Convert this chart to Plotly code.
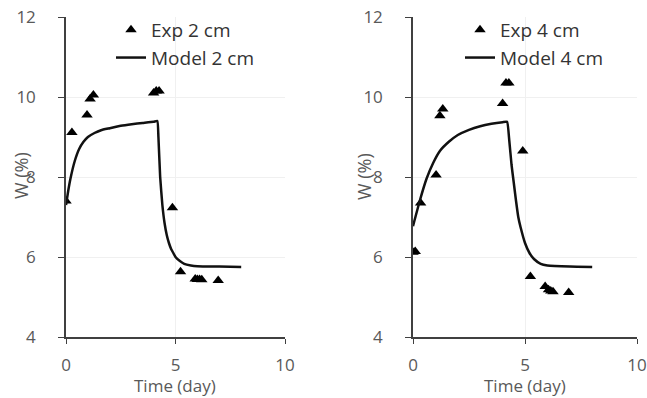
import plotly.graph_objects as go

# ---- data ----
exp2_x = [0.0, 0.27, 0.96, 1.1, 1.25, 4.0, 4.12, 4.25, 4.86, 5.23, 5.9, 6.0, 6.1, 6.2, 6.95]
exp2_y = [7.4, 9.11, 9.55, 9.95, 10.05, 10.1, 10.15, 10.15, 7.23, 5.63, 5.45, 5.44, 5.44, 5.43, 5.41]

model2_x = [0, 0.1, 0.2, 0.4, 0.6, 0.8, 1.0, 1.3, 1.6, 2.0, 2.5, 3.0, 3.5, 4.0, 4.17, 4.22, 4.3,
            4.4, 4.5, 4.6, 4.7, 4.8, 4.9, 5.0, 5.2, 5.4, 5.7, 6.0, 7.0, 8.0]
model2_y = [7.3, 7.65, 7.95, 8.4, 8.7, 8.88, 9.0, 9.1, 9.17, 9.22, 9.28, 9.32, 9.35, 9.38, 9.4, 9.0, 8.0,
            7.3, 6.85, 6.55, 6.35, 6.2, 6.1, 6.0, 5.9, 5.83, 5.79, 5.77, 5.76, 5.75]

exp4_x = [0.0, 0.1, 0.34, 1.03, 1.2, 1.33, 4.0, 4.15, 4.28, 4.9, 5.24, 5.9, 6.05, 6.15, 6.25, 6.95]
exp4_y = [6.12, 6.14, 7.35, 8.05, 9.53, 9.7, 9.84, 10.35, 10.35, 8.65, 5.51, 5.26, 5.18, 5.15, 5.13, 5.11]

model4_x = [0, 0.3, 0.6, 0.9, 1.2, 1.6, 2.0, 2.5, 3.0, 3.5, 4.0, 4.2, 4.3, 4.4, 4.5, 4.6, 4.7,
            4.8, 5.0, 5.2, 5.4, 5.7, 6.0, 7.0, 8.0]
model4_y = [6.77, 7.4, 7.95, 8.35, 8.65, 8.88, 9.05, 9.18, 9.27, 9.33, 9.37, 9.38, 8.9, 8.3, 7.85, 7.4, 7.0,
            6.75, 6.35, 6.1, 5.95, 5.83, 5.79, 5.76, 5.75]

x_ticks = [0, 5, 10]
y_ticks = [4, 6, 8, 10, 12]
x_title = "Time (day)"
y_title = "W (%)"

FONT = "'Open Sans', sans-serif"
FS = 17
FT = 18
FL = 19
GRAY = "#595959"
AXIS = "#404040"

fig = go.Figure()

fig.add_trace(go.Scatter(x=exp2_x, y=exp2_y, mode="markers", name="Exp 2 cm",
                         marker=dict(symbol="triangle-up", size=10, color="black"),
                         xaxis="x", yaxis="y", legend="legend", legendgroup="e2"))
fig.add_trace(go.Scatter(x=model2_x, y=model2_y, mode="lines", name="Model 2 cm",
                         line=dict(color="#111111", width=2.5, shape="spline", smoothing=0.4),
                         xaxis="x", yaxis="y", legend="legend", legendgroup="m2"))
fig.add_trace(go.Scatter(x=exp4_x, y=exp4_y, mode="markers", name="Exp 4 cm",
                         marker=dict(symbol="triangle-up", size=10, color="black"),
                         xaxis="x2", yaxis="y2", legend="legend2", legendgroup="e4"))
fig.add_trace(go.Scatter(x=model4_x, y=model4_y, mode="lines", name="Model 4 cm",
                         line=dict(color="#111111", width=2.5, shape="spline", smoothing=0.4),
                         xaxis="x2", yaxis="y2", legend="legend2", legendgroup="m4"))

W, H = 647, 398

def xaxis(dom, anchor):
    return dict(domain=dom, range=[0, 10], tickvals=x_ticks, anchor=anchor, automargin=False,
                showline=True, linecolor=AXIS, linewidth=1.5, ticks="outside", ticklen=5,
                tickcolor=AXIS, showgrid=True, gridcolor="#f0f0f0", zeroline=False,
                tickfont=dict(family=FONT, size=FS, color=GRAY), ticklabelstandoff=7)

def yaxis(dom, anchor):
    return dict(domain=dom, range=[4, 12], tickvals=y_ticks, anchor=anchor, automargin=False,
                showline=True, linecolor=AXIS, linewidth=1.5, ticks="outside", ticklen=6,
                tickcolor=AXIS, showgrid=True, gridcolor="#f0f0f0", zeroline=False,
                tickfont=dict(family=FONT, size=FS, color=GRAY), ticklabelstandoff=19)

ydom = [1 - 337 / H, 1 - 17 / H]
leg = dict(yanchor="top", xanchor="left", bgcolor="rgba(0,0,0,0)",
           font=dict(family=FONT, size=FL, color="#333333"), tracegroupgap=0, itemwidth=30)

def ytitle_ann(text, x):
    return dict(text=text, xref="paper", yref="paper", x=x / W, y=1 - 176 / H,
                textangle=-90, showarrow=False, xanchor="center", yanchor="middle",
                font=dict(family=FONT, size=FT, color=GRAY))

def xtitle_ann(text, x):
    return dict(text=text, xref="paper", yref="paper", x=x / W, y=1 - 399 / H,
                showarrow=False, xanchor="center", yanchor="bottom",
                font=dict(family=FONT, size=17, color=GRAY))

fig.update_layout(
    width=W, height=H,
    margin=dict(l=0, r=0, t=0, b=0, autoexpand=False),
    paper_bgcolor="white", plot_bgcolor="white",
    xaxis=xaxis([66 / W, 285 / W], "y"),
    yaxis=yaxis(ydom, "x"),
    xaxis2=xaxis([413 / W, 637 / W], "y2"),
    yaxis2=yaxis(ydom, "x2"),
    legend=dict(leg, x=111 / W, y=1 - 11 / H),
    legend2=dict(leg, x=460 / W, y=1 - 11 / H),
    showlegend=True,
    annotations=[
        ytitle_ann(y_title, 21),
        ytitle_ann(y_title, 364),
        xtitle_ann(x_title, 175),
        xtitle_ann(x_title, 525),
    ],
)

fig.write_html("out.html")
